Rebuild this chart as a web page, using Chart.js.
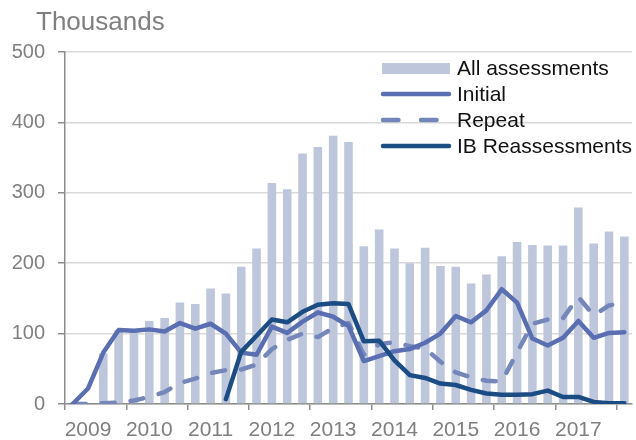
<!DOCTYPE html>
<html>
<head>
<meta charset="utf-8">
<script src="https://cdn.jsdelivr.net/npm/chart.js@4.4.0/dist/chart.umd.min.js"></script>
<style>
  html, body { margin: 0; padding: 0; background: #fff; }
  canvas { display: block; }
</style>
</head>
<body>
<canvas id="assessChart" width="636" height="440"></canvas>
<script>
        // quarterly categories, 2009 Q1 .. 2018 Q1
        const quarters = [
            '2009 Q1', '2009 Q2', '2009 Q3', '2009 Q4',
            '2010 Q1', '2010 Q2', '2010 Q3', '2010 Q4',
            '2011 Q1', '2011 Q2', '2011 Q3', '2011 Q4',
            '2012 Q1', '2012 Q2', '2012 Q3', '2012 Q4',
            '2013 Q1', '2013 Q2', '2013 Q3', '2013 Q4',
            '2014 Q1', '2014 Q2', '2014 Q3', '2014 Q4',
            '2015 Q1', '2015 Q2', '2015 Q3', '2015 Q4',
            '2016 Q1', '2016 Q2', '2016 Q3', '2016 Q4',
            '2017 Q1', '2017 Q2', '2017 Q3', '2017 Q4',
            '2018 Q1'
        ];
        const yearLabels = ['2009', '2010', '2011', '2012', '2013', '2014', '2015', '2016', '2017'];
        const yTicks = [0, 100, 200, 300, 400, 500];

        const allAssessments = [null, null, 72, 105, 103, 118, 122, 144, 142, 164, 157, 195, 221, 314, 305, 356, 365, 381, 372,
            224, 248, 221, 200, 222, 196, 195, 171, 184, 210, 230, 226, 225, 225, 279, 228, 245, 238];
        const initial = [0, 22, 73, 105, 104, 106, 103, 115, 107, 114, 100, 73, 70, 110, 101, 117, 130, 124, 111,
            61, 68, 75, 78, 87, 100, 125, 116, 133, 163, 144, 93, 83, 94, 118, 94, 101, 102];
        const repeat = [0, 0, 1, 2, 5, 10, 17, 30, 36, 44, 48, 49, 56, 78, 91, 100, 95, 108, 115,
            70, 85, 88, 82, 79, 60, 45, 38, 33, 32, 73, 114, 120, 122, 152, 126, 140, 144];
        const ibReassessments = [null, null, null, null, null, null, null, null, null, null, 7, 74, 97, 120, 116, 131, 141, 143, 142,
            89, 90, 62, 41, 37, 29, 27, 20, 15, 13, 13, 14, 19, 10, 10, 3, 1, 1];

        const barColor = 'rgb(189,198,218)';
        const initialColor = 'rgb(90,110,178)';
        const repeatColor = 'rgb(116,134,186)';
        const ibColor = 'rgb(27,76,132)';
        const axisGrey = '#8c8c8c';
        const textGrey = '#7f7f7f';
        const fontFamily = "'Liberation Sans', Arial, sans-serif";

        Chart.defaults.font.family = fontFamily;

        // legend + unit label drawn by hand so they sit inside the plot like the original
        const overlay = {
            id: 'overlay',
            afterDraw(chart) {
                const c = chart.ctx;
                c.save();
                c.fillStyle = textGrey;
                c.font = '26px ' + fontFamily;
                c.textBaseline = 'alphabetic';
                c.textAlign = 'left';
                c.fillText('Thousands', 36, 30);

                const x0 = 382, x1 = 450, tx = 457;
                const rows = [68.5, 94, 120, 146];
                c.fillStyle = barColor;
                c.fillRect(x0, 63, x1 - x0, 11);

                c.lineCap = 'round';
                c.lineWidth = 4.5;
                c.strokeStyle = initialColor;
                c.beginPath(); c.moveTo(x0 + 1, rows[1]); c.lineTo(x1 - 1, rows[1]); c.stroke();

                c.strokeStyle = repeatColor;
                c.setLineDash([15.5, 22.5]);
                c.beginPath(); c.moveTo(x0 + 1, rows[2]); c.lineTo(x1 - 1, rows[2]); c.stroke();
                c.setLineDash([]);

                c.strokeStyle = ibColor;
                c.beginPath(); c.moveTo(x0 + 1, rows[3]); c.lineTo(x1 - 1, rows[3]); c.stroke();

                c.fillStyle = '#111';
                c.font = '21px ' + fontFamily;
                c.textBaseline = 'middle';
                const names = ['All assessments', 'Initial', 'Repeat', 'IB Reassessments'];
                names.forEach((n, i) => c.fillText(n, tx, rows[i] + 1));
                c.restore();
            }
        };

        const ctx = document.getElementById('assessChart').getContext('2d');
        const assessChart = new Chart(ctx, {
            data: {
                labels: quarters,
                datasets: [
                    {
                        type: 'line',
                        label: 'IB Reassessments',
                        data: ibReassessments,
                        borderColor: ibColor,
                        borderWidth: 4.5,
                        borderJoinStyle: 'round',
                        borderCapStyle: 'round',
                        pointRadius: 0,
                        tension: 0,
                        order: 1
                    },
                    {
                        type: 'line',
                        label: 'Initial',
                        data: initial,
                        borderColor: initialColor,
                        borderWidth: 4.5,
                        borderJoinStyle: 'round',
                        borderCapStyle: 'round',
                        pointRadius: 0,
                        tension: 0,
                        order: 2
                    },
                    {
                        type: 'line',
                        label: 'Repeat',
                        data: repeat,
                        borderColor: repeatColor,
                        borderWidth: 4.5,
                        borderDash: [13, 16],
                        borderJoinStyle: 'round',
                        borderCapStyle: 'round',
                        pointRadius: 0,
                        tension: 0,
                        order: 3
                    },
                    {
                        type: 'bar',
                        label: 'All assessments',
                        data: allAssessments,
                        backgroundColor: barColor,
                        barPercentage: 0.56,
                        categoryPercentage: 1,
                        order: 4
                    }
                ]
            },
            options: {
                responsive: false,
                animation: false,
                layout: { padding: { left: 0, right: 4, top: 52, bottom: 0 } },
                plugins: {
                    legend: { display: false },
                    tooltip: { enabled: false }
                },
                scales: {
                    x: {
                        type: 'category',
                        offset: true,
                        border: { color: axisGrey, width: 1.5 },
                        grid: {
                            offset: true,
                            drawOnChartArea: false,
                            tickLength: 6,
                            lineWidth: 1.5,
                            tickColor: (c) => (c.index % 4 === 0 ? axisGrey : 'rgba(0,0,0,0)')
                        },
                        ticks: {
                            autoSkip: false,
                            maxRotation: 0,
                            minRotation: 0,
                            padding: 8,
                            color: textGrey,
                            font: { size: 21 },
                            callback: (v, i) => (i % 4 === 1 ? yearLabels[(i - 1) / 4] : '')
                        },
                        afterFit: (s) => { s.height = 36; }
                    },
                    y: {
                        min: yTicks[0],
                        max: yTicks[yTicks.length - 1],
                        border: { color: axisGrey, width: 1.5 },
                        grid: {
                            color: '#d9d9d9',
                            lineWidth: 1.5,
                            tickColor: axisGrey,
                            tickLength: 7
                        },
                        ticks: {
                            stepSize: 100,
                            padding: 13,
                            color: textGrey,
                            font: { size: 20 }
                        },
                        afterFit: (s) => { s.width = 65; }
                    }
                }
            },
            plugins: [overlay]
        });
</script>
</body>
</html>
